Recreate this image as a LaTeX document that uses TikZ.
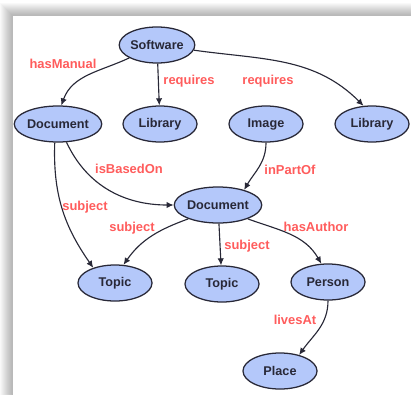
\documentclass[tikz,border=0pt]{standalone}
\usepackage{fontspec}
\setmainfont{Liberation Sans}
\usetikzlibrary{shapes.geometric,arrows.meta}
\definecolor{nodeblue}{RGB}{180,200,250}
\definecolor{labelred}{RGB}{255,92,92}
\definecolor{inkgray}{RGB}{40,40,55}

\begin{document}
\begin{tikzpicture}[x=0.025cm,y=0.025cm,
  concept/.style={ellipse,draw=inkgray,fill=nodeblue,line width=0.9pt,minimum width=1.85cm,minimum height=0.9cm,inner sep=0pt,text=inkgray,font=\fontsize{9}{10}\selectfont\bfseries},
  rel/.style={text=labelred,font=\fontsize{9.2}{10}\selectfont\bfseries},
  link/.style={draw=inkgray,line width=0.8pt,-{Latex[length=5pt,width=4.5pt]}}]
\useasboundingbox (0,0) rectangle (411,-394);
\clip (0,0) rectangle (411,-394);
\fill[white] (0,0) rectangle (411,-394);
\foreach \d in {1,...,12}
  \fill[black,opacity=0.025] (12-\d,-15+\d) rectangle (440,-420);
\fill[white] (12,-15) rectangle (440,-420);
\draw[gray!55,line width=0.4pt] (12,-420) -- (12,-15) -- (440,-15);

\node[concept] (software) at (157,-45) {Software};
\node[concept] (docmanual) at (58,-124) {Document};
\node[concept] (libraryA) at (160,-124) {Library};
\node[concept] (image) at (266,-124) {Image};
\node[concept] (libraryB) at (372,-124) {Library};
\node[concept] (document) at (218,-205) {Document};
\node[concept] (topicA) at (115,-283) {Topic};
\node[concept] (topicB) at (222,-284) {Topic};
\node[concept] (person) at (328,-282) {Person};
\node[concept] (place) at (280,-371) {Place};

\draw[link] (software.205) to[out=205,in=70] (docmanual.80);
\draw[link] (software) -- (libraryA);
\draw[link] (software.-8) to[out=-8,in=135] (libraryB.115);
\draw[link] (docmanual.-65) to[out=-65,in=180] (document.west);
\draw[link] (docmanual.-100) to[out=-92,in=125] (topicA.145);
\draw[link] (image) to[out=-90,in=60] (document.30);
\draw[link] (document.205) to[out=200,in=55] (topicA.65);
\draw[link] (document) -- (topicB);
\draw[link] (document.-25) to[out=-20,in=120] (person.110);
\draw[link] (person) to[out=-90,in=55] (place.40);

\node[rel] (hasmanual) at (63,-64) {hasManual};
\node[rel] (requiresA) at (189,-81) {requires};
\node[rel] (requiresB) at (268,-81) {requires};
\node[rel] (isbasedon) at (129,-169) {isBasedOn};
\node[rel] (inpartof) at (290,-170) {inPartOf};
\node[rel] (subjectA) at (85,-207) {subject};
\node[rel] (subjectB) at (132,-228) {subject};
\node[rel] (subjectC) at (247,-246) {subject};
\node[rel] (hasauthor) at (316,-227) {hasAuthor};
\node[rel] (livesat) at (295,-320) {livesAt};
\end{tikzpicture}
\end{document}
